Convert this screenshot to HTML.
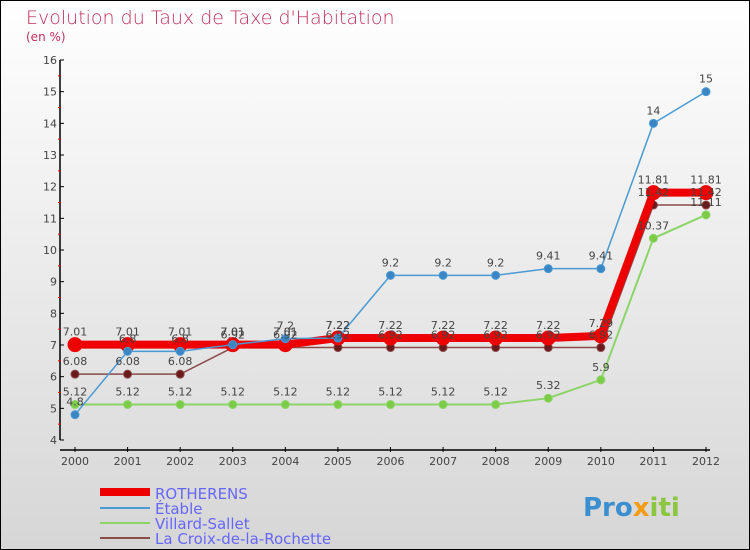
<!DOCTYPE html>
<html><head><meta charset="utf-8"><style>
body{margin:0;width:750px;height:550px;overflow:hidden}
svg{display:block;font-family:"DejaVu Sans","Liberation Sans",sans-serif}
</style></head><body>
<svg width="750" height="550">
<defs><linearGradient id="bg" x1="0" y1="0" x2="0" y2="1"><stop offset="0" stop-color="#ffffff"/><stop offset="1" stop-color="#d6d6d6"/></linearGradient></defs>
<rect x="0.5" y="0.5" width="749" height="549" fill="url(#bg)" stroke="#000"/>
<text x="26" y="24" font-size="19" fill="#c0305a" font-weight="300">Evolution du Taux de Taxe d'Habitation</text>
<text x="26" y="41" font-size="12" fill="#c0305a">(en %)</text>
<g id="axes"></g><g id="series"></g><g id="labels"></g>
<g>
<rect x="100" y="488" width="50" height="8" fill="#e00"/>
<text x="155" y="499" font-size="15" fill="#6666ff">ROTHERENS</text>
<line x1="100" y1="508" x2="150" y2="508" stroke="#4a9ad4" stroke-width="2"/>
<text x="155" y="514" font-size="15" fill="#6666ff">Étable</text>
<line x1="100" y1="523" x2="150" y2="523" stroke="#8cd468" stroke-width="2"/>
<text x="155" y="529" font-size="15" fill="#6666ff">Villard-Sallet</text>
<line x1="100" y1="538" x2="150" y2="538" stroke="#8b4a4a" stroke-width="2"/>
<text x="155" y="544" font-size="15" fill="#6666ff">La Croix-de-la-Rochette</text>
</g>
<text x="583" y="516" font-size="26" font-weight="bold" fill="#3a8fd0">Pro<tspan fill="#f39c12">x</tspan><tspan fill="#8cc63f">iti</tspan></text>
</svg>
<script>
const years=[2000,2001,2002,2003,2004,2005,2006,2007,2008,2009,2010,2011,2012];
const yTicks=[4,5,6,7,8,9,10,11,12,13,14,15,16];
const rotherens=[7.01,7.01,7.01,7.01,7.01,7.22,7.22,7.22,7.22,7.22,7.29,11.81,11.81];
const etable=[4.8,6.8,6.8,7.01,7.2,7.22,9.2,9.2,9.2,9.41,9.41,14,15];
const villard=[5.12,5.12,5.12,5.12,5.12,5.12,5.12,5.12,5.12,5.32,5.9,10.37,11.11];
const croix=[6.08,6.08,6.08,6.92,6.92,6.92,6.92,6.92,6.92,6.92,6.92,11.42,11.42];
const NS="http://www.w3.org/2000/svg";
const xs=i=>75+i*(706-75)/(years.length-1);
const ys=v=>440-(v-4)*(380/12);
function mk(t,a,p){const e=document.createElementNS(NS,t);for(const k in a)e.setAttribute(k,a[k]);p.appendChild(e);return e;}
const ax=document.getElementById('axes');
let l=mk('line',{x1:60,y1:ys(16),x2:60,y2:440,stroke:'#000','stroke-width':1.5},ax);


l=mk('line',{x1:60,y1:450,x2:710,y2:450,stroke:'#000','stroke-width':1.5},ax);


yTicks.forEach(v=>{mk('line',{x1:60,x2:64,y1:ys(v),y2:ys(v),stroke:'#000'},ax);
 if(v<16)mk('line',{x1:58,x2:61,y1:ys(v+0.5),y2:ys(v+0.5),stroke:'#f00'},ax);
 const t=mk('text',{x:57,y:ys(v)+4,'font-size':11,fill:'#444','text-anchor':'end'},ax);t.textContent=v;
 
 });
years.forEach((y,i)=>{mk('line',{x1:xs(i),x2:xs(i),y1:447,y2:452,stroke:'#000'},ax);
 const t=mk('text',{x:xs(i),y:465,'font-size':11,fill:'#444','text-anchor':'middle'},ax);t.textContent=y;
 
 });
const S=document.getElementById('series'),L=document.getElementById('labels');
function draw(data,name,col,w,r,dot){
 const g=mk('g',{},S);
 
 
 mk('polyline',{points:data.map((v,i)=>xs(i)+','+ys(v)).join(' '),fill:'none',stroke:col,'stroke-width':w},g);
 data.forEach((v,i)=>{const c=mk('circle',{cx:xs(i),cy:ys(v),r:r,fill:dot,stroke:col,'stroke-width':1},g);
  
  
  const t=mk('text',{x:xs(i),y:ys(v)-9,'font-size':11,fill:'#444','text-anchor':'middle'},L);t.textContent=v;
  
  });
}
draw(villard,'villard-sallet','#8cd468',2,4,'#7ccc48');
draw(croix,'la-croix','#8b4a4a',1.5,4,'#6a1a1a');
draw(rotherens,'rotherens','#e00',8,7,'#e00');
draw(etable,'etable','#4a9ad4',1.5,4,'#3a86c4');
</script>
</body></html>
